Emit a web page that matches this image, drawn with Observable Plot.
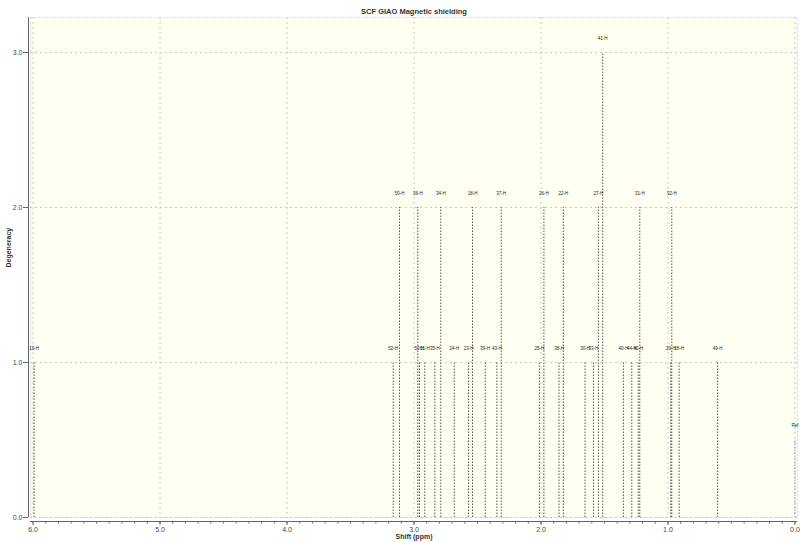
<!DOCTYPE html>
<html>
<head>
<meta charset="utf-8">
<script src="https://cdn.jsdelivr.net/npm/d3@7"></script>
<script src="https://cdn.jsdelivr.net/npm/@observablehq/plot@0.6"></script>
<style>
  html, body { margin: 0; padding: 0; background: #ffffff; }
  #chart svg { display: block; }
</style>
</head>
<body>
<div id="chart"></div>
<script>
// Data
const labels = ["10-H","52-H","50-H","36-H","53-H","51-H","35-H","34-H","24-H","23-H","18-H","39-H","43-H","37-H","25-H","26-H","38-H","22-H","30-H","33-H","27-H","41-H","40-H","44-H","42-H","31-H","29-H","32-H","28-H","49-H"];
const shifts = [5.992,3.164,3.114,2.970,2.957,2.915,2.836,2.789,2.683,2.570,2.539,2.439,2.347,2.313,2.013,1.977,1.858,1.824,1.653,1.587,1.548,1.514,1.351,1.285,1.234,1.222,0.978,0.970,0.912,0.609];
const degeneracy = [1,1,2,2,1,1,1,2,1,1,2,1,1,2,1,2,1,2,1,1,2,3,1,1,1,2,1,2,1,1];
const refLabel = ["Ref"];
const refShift = [0.0];
const refDegeneracy = [0.5];
const xMajorTicks = [0,1,2,3,4,5,6];
const xMinorTicks = d3.range(0, 61).map(i => i / 10);
const yTicks = [0,1,2,3];

const peaks = labels.map((l, i) => ({label: l, shift: shifts[i], deg: degeneracy[i]}));
const refs = refLabel.map((l, i) => ({label: l, shift: refShift[i], deg: refDegeneracy[i]}));

const font = "'Liberation Sans', Arial, sans-serif";

const chart = Plot.plot({
  width: 800,
  height: 543,
  marginLeft: 30,
  marginRight: 3,
  marginTop: 17,
  marginBottom: 26,
  style: {fontFamily: font, background: "#ffffff", color: "#333"},
  x: {domain: [6.02, -0.02]},
  y: {domain: [0, 3.226]},
  marks: [
    Plot.frame({fill: "#fffff2", stroke: "#d8d8d0", strokeDasharray: "2,2"}),
    Plot.gridX(xMajorTicks, {stroke: "#c8c8c8", strokeOpacity: 1, strokeDasharray: "2,3"}),
    Plot.gridY(yTicks, {stroke: "#c8c8c8", strokeOpacity: 1, strokeDasharray: "2,3"}),
    Plot.ruleX(peaks, {x: "shift", y1: 0, y2: "deg", stroke: "#555", strokeWidth: 1, strokeDasharray: "1.5,1.5"}),
    Plot.ruleX(refs, {x: "shift", y1: 0, y2: "deg", stroke: "#8a8af0", strokeWidth: 1, strokeDasharray: "1.5,1.5"}),
    Plot.text(peaks, {x: "shift", y: "deg", text: "label", dy: -14, fontSize: 4.5, fill: "#222"}),
    Plot.text(refs, {x: "shift", y: "deg", text: "label", dy: -14, fontSize: 4.5, fill: "#222"}),
    // axes
    Plot.ruleY([0], {dy: 4, stroke: "#666"}),
    Plot.ruleX([6.02], {dx: -2, stroke: "#666"}),
    Plot.axisX(xMinorTicks, {tickSize: 2.5, tickFormat: () => "", dy: 4, stroke: "#666", label: null}),
    Plot.axisX(xMajorTicks, {tickSize: 4, tickPadding: 2, dy: 4, tickFormat: d => d.toFixed(1), fontSize: 7, fill: "#444", stroke: "#666", label: null}),
    Plot.axisY(yTicks, {tickSize: 5, tickPadding: 1, dx: -2, tickFormat: d => d.toFixed(1), fontSize: 7, fill: "#444", stroke: "#666", label: null}),
    // titles
    Plot.text(["SCF GIAO Magnetic shielding"], {frameAnchor: "top", dy: -9, text: d => d, fontSize: 7.5, fontWeight: "bold", fill: "#333"}),
    Plot.text(["Shift (ppm)"], {frameAnchor: "bottom", dy: 21, text: d => d, fontSize: 7, fontWeight: "bold", fill: "#333"}),
    Plot.text(["Degeneracy"], {frameAnchor: "left", dx: -22, rotate: -90, text: d => d, fontSize: 7, fontWeight: "bold", fill: "#333"})
  ]
});
document.getElementById("chart").appendChild(chart);
</script>
</body>
</html>
